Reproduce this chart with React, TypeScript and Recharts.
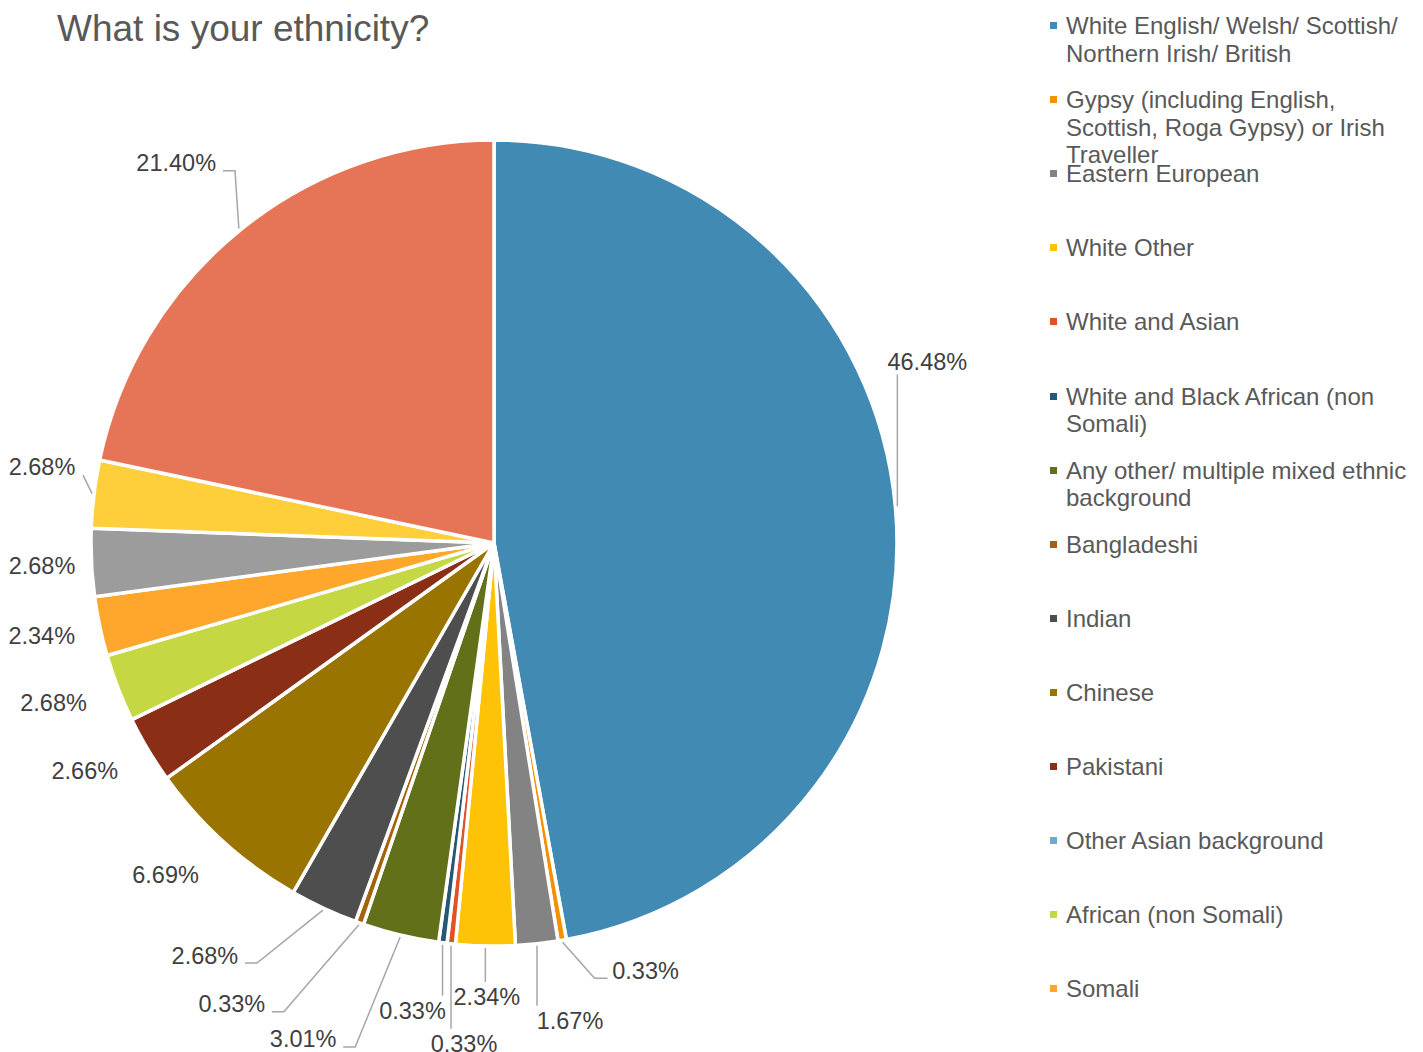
import React from "react";
import { PieChart, Pie, Cell } from "recharts";

const CATEGORIES = [
  "White English/ Welsh/ Scottish/ Northern Irish/ British",
  "Gypsy (including English, Scottish, Roga Gypsy) or Irish Traveller",
  "Eastern European",
  "White Other",
  "White and Asian",
  "White and Black African (non Somali)",
  "Any other/ multiple mixed ethnic background",
  "Bangladeshi",
  "Indian",
  "Chinese",
  "Pakistani",
  "Other Asian background",
  "African (non Somali)",
  "Somali",
  "Any other Black background",
  "Arab",
  "Any other ethnic group",
];

const VALUES = [
  46.48, 0.33, 1.67, 2.34, 0.33, 0.33, 3.01, 0.33, 2.68, 6.69, 2.66, 0, 2.68,
  2.34, 2.68, 2.68, 21.4,
];

const COLORS = [
  "#418AB3",
  "#F39200",
  "#838383",
  "#FEC306",
  "#DF5327",
  "#275774",
  "#627019",
  "#A5610B",
  "#4E4E4E",
  "#9A7400",
  "#8A2F16",
  "#6EA8D4",
  "#C5D843",
  "#FFA72C",
  "#9C9C9C",
  "#FECE3B",
  "#E57556",
];

const LEGEND_COUNT = 14;

// label placement relative to the slice's outer edge point (layout only)
const LABEL_LAYOUT: { dx: number; dy: number; leader: string }[] = [
  { dx: 30, dy: -145, leader: "up" },
  { dx: 83, dy: 28, leader: "elbowR" },
  { dx: 33, dy: 75, leader: "down" },
  { dx: 1.5, dy: 49, leader: "down" },
  { dx: 13, dy: 98, leader: "down" },
  { dx: -30, dy: 66, leader: "down" },
  { dx: -97, dy: 102, leader: "elbowL" },
  { dx: -127, dy: 79, leader: "elbowL" },
  { dx: -118, dy: 45, leader: "elbowL" },
  { dx: -57, dy: 31.5, leader: "none" },
  { dx: -61.5, dy: 20, leader: "none" },
  { dx: 0, dy: 0, leader: "none" },
  { dx: -62.6, dy: 14.2, leader: "none" },
  { dx: -56, dy: 9, leader: "none" },
  { dx: -47.5, dy: 3.2, leader: "none" },
  { dx: -50, dy: -26.6, leader: "corner" },
  { dx: -62.6, dy: -65.7, leader: "elbowL" },
];

const data = CATEGORIES.map((name, i) => ({ name, value: VALUES[i] }));

const FONT = '"Liberation Sans", Arial, Helvetica, sans-serif';
const LABEL_FS = 23.5;
const LEGEND_FS = 24;
const LINE_COLOR = "#A6A6A6";

const renderLabel = (props: any) => {
  const { cx, cy, midAngle, outerRadius, index, value } = props;
  if (!value) return null;
  const lay = LABEL_LAYOUT[index];
  const rad = (-midAngle * Math.PI) / 180;
  const ex = cx + (outerRadius + 2) * Math.cos(rad);
  const ey = cy + (outerRadius + 2) * Math.sin(rad);
  const tx = ex + lay.dx;
  const ty = ey + lay.dy;
  const text = `${Number(value).toFixed(2)}%`;
  const hw = text.length * 6.8;
  let pts: string | null = null;
  if (lay.leader === "up") pts = `${ex},${ey} ${ex},${ty + 13}`;
  else if (lay.leader === "down") pts = `${ex},${ey} ${ex},${ty - 15}`;
  else if (lay.leader === "elbowL")
    pts = `${ex},${ey} ${tx + hw + 18},${ty + 8} ${tx + hw + 6},${ty + 8}`;
  else if (lay.leader === "elbowR")
    pts = `${ex},${ey} ${tx - hw - 17},${ty + 8} ${tx - hw - 4},${ty + 8}`;
  else if (lay.leader === "corner") pts = `${ex},${ey} ${tx + hw + 7},${ty + 8}`;
  return (
    <g key={`lbl-${index}`}>
      {pts && (
        <polyline
          points={pts}
          fill="none"
          stroke={LINE_COLOR}
          strokeWidth={1.5}
        />
      )}
      <text
        x={tx}
        y={ty + 0.358 * LABEL_FS}
        textAnchor="middle"
        fontSize={LABEL_FS}
        fontFamily={FONT}
        fill="#404040"
      >
        {text}
      </text>
    </g>
  );
};

export default function App() {
  return (
    <div
      style={{
        position: "fixed",
        left: 0,
        top: 0,
        width: 1423,
        height: 1052,
        background: "#ffffff",
        overflow: "hidden",
        fontFamily: FONT,
      }}
    >
      <div
        style={{
          position: "absolute",
          left: 57,
          top: 10,
          fontSize: 37,
          lineHeight: "37px",
          color: "#595959",
          whiteSpace: "nowrap",
        }}
      >
        What is your ethnicity?
      </div>
      <div style={{ position: "absolute", left: 0, top: 0 }}>
        <PieChart
          width={1423}
          height={1052}
          margin={{ top: 0, right: 0, bottom: 0, left: 0 }}
        >
          <Pie
            data={data}
            dataKey="value"
            nameKey="name"
            cx={494}
            cy={543}
            outerRadius={403}
            startAngle={90}
            endAngle={-270}
            stroke="#ffffff"
            strokeWidth={3.5}
            label={renderLabel}
            labelLine={false}
            isAnimationActive={false}
          >
            {data.map((d, i) => (
              <Cell key={d.name} fill={COLORS[i]} />
            ))}
          </Pie>
        </PieChart>
      </div>
      {CATEGORIES.slice(0, LEGEND_COUNT).map((name, i) => (
        <div
          key={name}
          style={{
            position: "absolute",
            left: 1050,
            top: 12 + i * 74.1,
            width: 370,
            display: "flex",
            alignItems: "flex-start",
          }}
        >
          <div
            style={{
              width: 7,
              height: 7,
              background: COLORS[i],
              marginTop: 10,
              marginRight: 9,
              flex: "0 0 auto",
            }}
          />
          <div
            style={{
              fontSize: LEGEND_FS,
              lineHeight: "27.5px",
              color: "#595959",
              width: 352,
            }}
          >
            {name}
          </div>
        </div>
      ))}
    </div>
  );
}
